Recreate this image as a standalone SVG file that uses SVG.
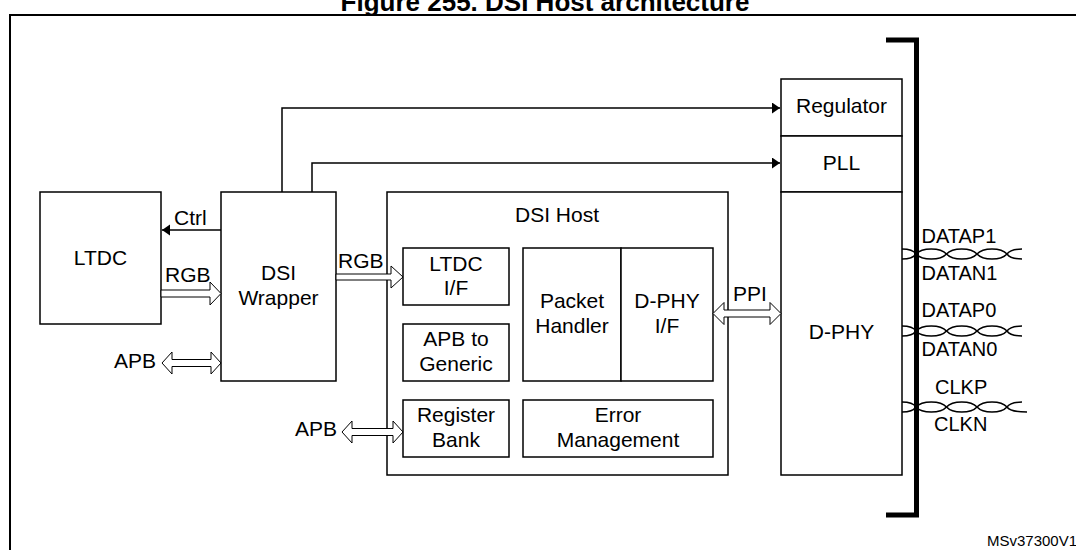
<svg xmlns="http://www.w3.org/2000/svg" width="1076" height="550" viewBox="0 0 1076 550">
<style>
text{font-family:"Liberation Sans",Arial,sans-serif;font-size:21px;fill:#000}
.c{text-anchor:middle}
.r{text-anchor:end}
.pin{font-size:20px}
.box{fill:#fff;stroke:#000;stroke-width:1.5}
.ln{fill:none;stroke:#000;stroke-width:1.5}
.hol{fill:#fff;stroke:#000;stroke-width:1}
.tw{fill:none;stroke:#000;stroke-width:1.5}
</style>
<defs>
<marker id="ah" markerUnits="userSpaceOnUse" markerWidth="9" markerHeight="12" refX="8" refY="5.5" orient="auto">
<path d="M0,0 L8,5.5 L0,11 z" fill="#000"/>
</marker>
</defs>
<rect width="1076" height="550" fill="#fff"/>
<text x="545" y="11" class="c" style="font-weight:bold;font-size:26px">Figure 255. DSI Host architecture</text>
<path d="M1076,15 H10 V550" fill="none" stroke="#000" stroke-width="2"/>

<g id="ltdc"><rect class="box" x="40" y="192" width="121" height="132"/><text x="100.5" y="265" class="c">LTDC</text></g>
<g id="wrapper"><rect class="box" x="221" y="192" width="115" height="189"/><text x="278.5" y="280" class="c">DSI</text><text x="278.5" y="305" class="c">Wrapper</text></g>
<g id="dsihost"><rect class="box" x="387" y="192" width="341" height="283"/><text x="557" y="222" class="c">DSI Host</text></g>
<g id="ltdcif"><rect class="box" x="403" y="248" width="106" height="57"/><text x="456" y="271" class="c">LTDC</text><text x="456" y="295" class="c">I/F</text></g>
<g id="apbgen"><rect class="box" x="403" y="324" width="106" height="57"/><text x="456" y="346" class="c">APB to</text><text x="456" y="371" class="c">Generic</text></g>
<g id="regbank"><rect class="box" x="403" y="400" width="106" height="57"/><text x="456" y="422" class="c">Register</text><text x="456" y="447" class="c">Bank</text></g>
<g id="packet"><rect class="box" x="523" y="248" width="98" height="133"/><text x="572" y="308" class="c">Packet</text><text x="572" y="333" class="c">Handler</text></g>
<g id="dphyif"><rect class="box" x="621" y="248" width="92" height="133"/><text x="667" y="308" class="c">D-PHY</text><text x="667" y="333" class="c">I/F</text></g>
<g id="errmgmt"><rect class="box" x="523" y="400" width="190" height="57"/><text x="618" y="422" class="c">Error</text><text x="618" y="447" class="c">Management</text></g>
<g id="regulator"><rect class="box" x="781" y="79" width="121" height="57"/><text x="841.5" y="113" class="c">Regulator</text></g>
<g id="pll"><rect class="box" x="781" y="136" width="121" height="56"/><text x="841.5" y="170" class="c">PLL</text></g>
<g id="dphy"><rect class="box" x="781" y="192" width="121" height="283"/><text x="841.5" y="339" class="c">D-PHY</text></g>

<g id="connectors">
<path class="ln" d="M282,192 V108 H780" marker-end="url(#ah)"/>
<path class="ln" d="M312,192 V163 H780" marker-end="url(#ah)"/>
<path class="ln" d="M221,230 H162" marker-end="url(#ah)"/>
<text x="174" y="225">Ctrl</text>
<path class="hol" d="M161,290 H210 V282 L221,293.5 L210,305 V297 H161 Z"/>
<text x="165" y="282">RGB</text>
<path class="hol" d="M336,274 H391 V266 L403,277 L391,288 V280 H336 Z"/>
<text x="338" y="268">RGB</text>
<path class="hol" d="M162,363 L172,352 V359.5 H211 V352 L221,363 L211,374 V366.5 H172 V374 Z"/>
<text x="156" y="368" class="r">APB</text>
<path class="hol" d="M342,432 L352,421 V428.5 H393 V421 L403,432 L393,443 V435.5 H352 V443 Z"/>
<text x="337" y="436" class="r">APB</text>
<path class="hol" d="M713,313.5 L724,302.5 V310 H770 V302.5 L781,313.5 L770,324.5 V317 H724 V324.5 Z"/>
<text x="733" y="301">PPI</text>
<path d="M886,40 H916.5 V515 H886" fill="none" stroke="#000" stroke-width="5"/>
<g id="pair1">
<path class="tw" d="M902,249 C909,249 914,251 916,254 C922,260.7 940.5,260.7 946.5,254 C952.5,247.3 971,247.3 977,254 C983,260.7 1001,260.7 1007,254 C1009,251 1015,249 1022,249"/>
<path class="tw" d="M902,259 C909,259 914,257 916,254 C922,247.3 940.5,247.3 946.5,254 C952.5,260.7 971,260.7 977,254 C983,247.3 1001,247.3 1007,254 C1009,257 1015,259 1022,259"/>
</g>
<g id="pair0">
<path class="tw" d="M902,326 C909,326 914,328 916,331 C922,337.7 940.5,337.7 946.5,331 C952.5,324.3 971,324.3 977,331 C983,337.7 1001,337.7 1007,331 C1009,328 1015,326 1022,326"/>
<path class="tw" d="M902,336 C909,336 914,334 916,331 C922,324.3 940.5,324.3 946.5,331 C952.5,337.7 971,337.7 977,331 C983,324.3 1001,324.3 1007,331 C1009,334 1015,336 1022,336"/>
</g>
<g id="pairclk">
<path class="tw" d="M902,402 C909,402 914,404 916,407 C922,413.7 940.5,413.7 946.5,407 C952.5,400.3 971,400.3 977,407 C983,413.7 1001,413.7 1007,407 C1009,404 1015,402 1022,402"/>
<path class="tw" d="M902,412 C909,412 914,410 916,407 C922,400.3 940.5,400.3 946.5,407 C952.5,413.7 971,413.7 977,407 C983,400.3 1001,400.3 1007,407 C1009,410 1015,412 1027,412"/>
</g>
</g>
<text x="921.5" y="243" class="pin">DATAP1</text>
<text x="921.5" y="280" class="pin">DATAN1</text>
<text x="921.5" y="317" class="pin">DATAP0</text>
<text x="921.5" y="355.5" class="pin">DATAN0</text>
<text x="935" y="394" class="pin">CLKP</text>
<text x="934" y="430.5" class="pin">CLKN</text>
<text x="987" y="546" style="font-size:15px">MSv37300V1</text>
</svg>
